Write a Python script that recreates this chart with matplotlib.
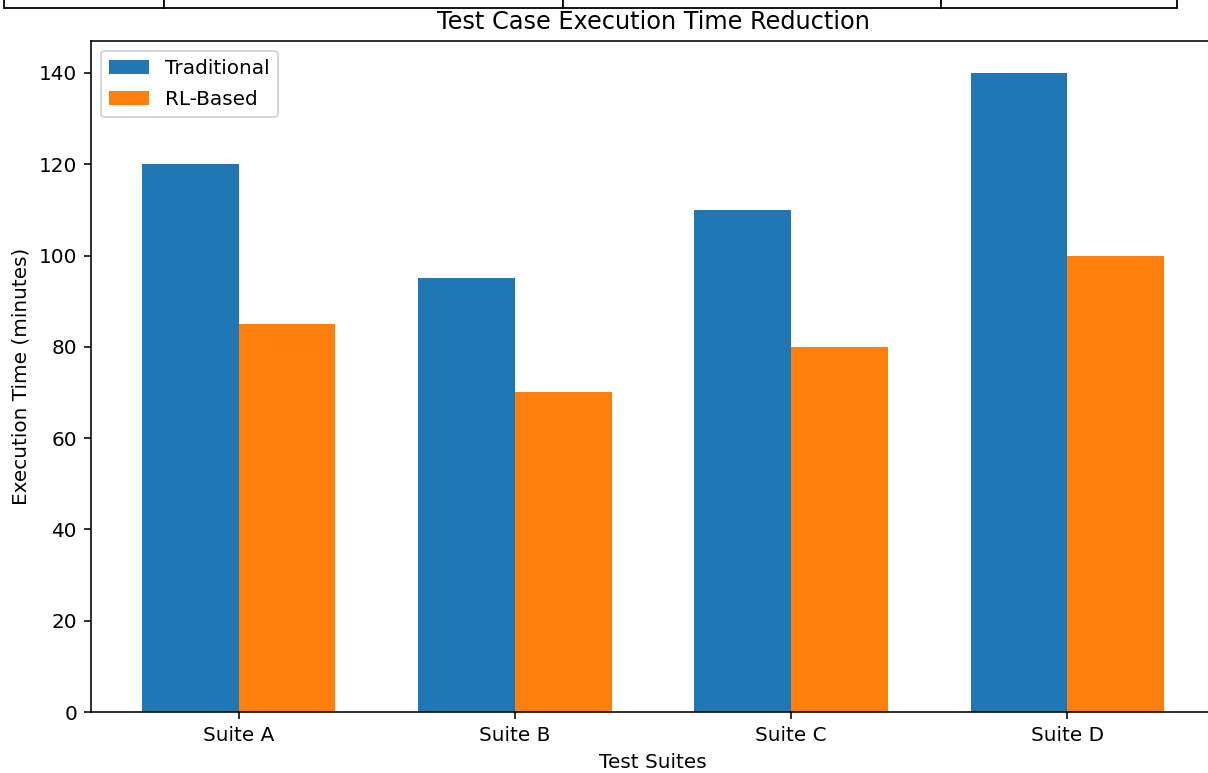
import matplotlib.pyplot as plt
import numpy as np

# data
suites = ['Suite A', 'Suite B', 'Suite C', 'Suite D']
traditional = [120, 95, 110, 140]
rl_based = [85, 70, 80, 100]
table_cells = [['', '', '', '']]
col_fracs = [160, 399, 378, 236]

dpi = 144
fig = plt.figure(figsize=(1208 / dpi, 773 / dpi), dpi=dpi)
# axes runs past the right edge like in the reference crop
ax = fig.add_axes([91 / 1208, 61 / 773, 1124 / 1208, 671 / 773])

x = np.arange(len(suites))
width = 0.35
ax.bar(x - width / 2, traditional, width, label='Traditional')
ax.bar(x + width / 2, rl_based, width, label='RL-Based')

ax.set_xticks(x)
ax.set_xticklabels(suites)
ax.set_xlabel('Test Suites')
ax.set_ylabel('Execution Time (minutes)')
ax.set_title('Test Case Execution Time Reduction')
ax.legend(loc='upper left', labelspacing=0.6)

# table row sticking out above the plot (mostly cut off)
total = sum(col_fracs)
tbl = ax.table(cellText=table_cells,
               colWidths=[c / total for c in col_fracs],
               bbox=[-0.0774, 1.049, 1.0436, 0.25])
for cell in tbl.get_celld().values():
    cell.set_linewidth(0.9)

fig.savefig('out.png', dpi=dpi)
